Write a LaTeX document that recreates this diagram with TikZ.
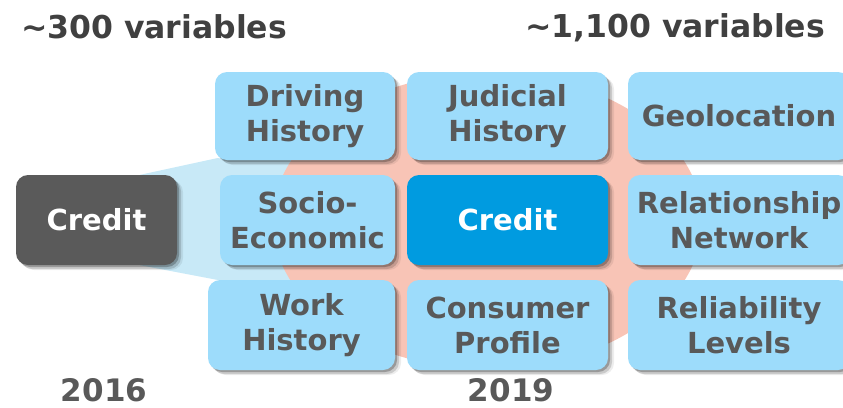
\documentclass[tikz,border=0pt]{standalone}
\usepackage{fontspec}
\setmainfont{DejaVu Sans}
\usetikzlibrary{shadows,calc,backgrounds}

\definecolor{boxblue}{HTML}{9DDCFB}
\definecolor{keyblue}{HTML}{009BE0}
\definecolor{darkbox}{HTML}{5A5A5A}
\definecolor{salmon}{HTML}{F8C4B6}
\definecolor{fanblue}{HTML}{C8E9F7}
\definecolor{txtgray}{HTML}{595959}
\definecolor{headgray}{HTML}{404040}

\begin{document}
\begin{tikzpicture}[
  x=1pt, y=-1pt,
  font=\bfseries\fontsize{29}{35}\selectfont,
  soft/.style={drop shadow={shadow xshift=2pt, shadow yshift=-2pt, opacity=0.24, fill=black},
               drop shadow={shadow xshift=4pt, shadow yshift=-4pt, opacity=0.15, fill=black},
               drop shadow={shadow xshift=6pt, shadow yshift=-5pt, opacity=0.07, fill=black}},
  var/.style={rectangle, rounded corners=12pt, fill=boxblue, text=txtgray, align=center,
              inner sep=0pt, minimum width=201pt, minimum height=89pt, soft},
  core/.style={var, fill=keyblue, text=white},
  old/.style={var, fill=darkbox, text=white},
  head/.style={anchor=base, inner sep=1pt, text=headgray, font=\bfseries\fontsize{31.5}{36}\selectfont},
  year/.style={anchor=base, inner sep=1pt, text=txtgray, font=\bfseries\fontsize{31}{36}\selectfont}
]
\useasboundingbox (0,0) rectangle (843,407);
\clip (0,0) rectangle (843,407);

% 2016 set
\node[old, minimum width=161pt, minimum height=90pt] (lcred) at (96.5,220) {Credit};

% 2019 grid, column by column
\node[var, minimum width=180pt, minimum height=88pt] (drv) at (305,116) {Driving\\History};
\node[var, minimum width=175pt, minimum height=90pt] (soc) at (307.5,220) {Socio-\\Economic};
\node[var, minimum width=187pt, minimum height=90pt] (wrk) at (301.5,325) {Work\\History};

\node[var, minimum height=88pt] (jud) at (507.5,116) {Judicial\\History};
\node[core, minimum height=90pt] (crd) at (507.5,220) {Credit};
\node[var, minimum height=90pt] (con) at (507.5,325) {Consumer\\Profile};

\node[var, minimum width=222pt, minimum height=88pt] (geo) at (739,116) {Geolocation};
\node[var, minimum width=222pt, minimum height=90pt] (rel) at (739,220) {Relationship\\Network};
\node[var, minimum width=222pt, minimum height=90pt] (rlb) at (739,325) {Reliability\\Levels};

% fan from the old credit box, blob behind the grid
\begin{scope}[on background layer]
  \fill[fanblue] ($(lcred.north east)+(-37,0)$) -- ($(drv.south west)+(2,-2)$)
    -- ($(soc.center)+(0,-60)$) -- ($(soc.center)+(0,60)$)
    -- ($(wrk.north west)+(9,0)$) -- ($(lcred.south east)+(-37,0)$) -- cycle;
  \fill[salmon] (crd.center) ++(-20,1) ellipse [x radius=215, y radius=148];
\end{scope}

% headings and years
\node[head] (h16) at (154,38) {\textasciitilde300 variables};
\node[head] (h19) at (675,37) {\textasciitilde1,100 variables};
\node[year] (y16) at (104,401) {2016};
\node[year] (y19) at (511,401) {2019};
\end{tikzpicture}
\end{document}
